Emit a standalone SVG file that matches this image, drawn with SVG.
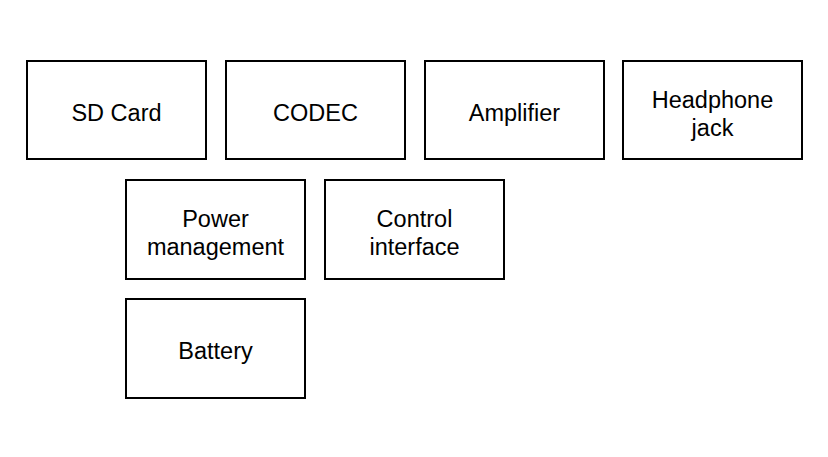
<svg xmlns="http://www.w3.org/2000/svg" width="828" height="457" viewBox="0 0 828 457">
<style>
.box{fill:#fff;stroke:#000;stroke-width:2}
.lbl{font-family:"Liberation Sans",Arial,sans-serif;font-size:23.5px;fill:#000;text-anchor:middle}
</style>
<rect width="828" height="457" fill="#fff"/>
<g id="sd-card"><rect class="box" x="27" y="61" width="179" height="98"/><text class="lbl" x="116.5" y="121">SD Card</text></g>
<g id="codec"><rect class="box" x="226" y="61" width="179" height="98"/><text class="lbl" x="315.5" y="121">CODEC</text></g>
<g id="amplifier"><rect class="box" x="425" y="61" width="179" height="98"/><text class="lbl" x="514.5" y="121">Amplifier</text></g>
<g id="headphone-jack"><rect class="box" x="623" y="61" width="179" height="98"/><text class="lbl" x="712.5" y="108">Headphone</text><text class="lbl" x="712.5" y="136">jack</text></g>
<g id="power-management"><rect class="box" x="126" y="180" width="179" height="99"/><text class="lbl" x="215.5" y="227">Power</text><text class="lbl" x="215.5" y="255">management</text></g>
<g id="control-interface"><rect class="box" x="325" y="180" width="179" height="99"/><text class="lbl" x="414.5" y="227">Control</text><text class="lbl" x="414.5" y="255">interface</text></g>
<g id="battery"><rect class="box" x="126" y="299" width="179" height="99"/><text class="lbl" x="215.5" y="359">Battery</text></g>
<g id="connectors"></g>
</svg>
